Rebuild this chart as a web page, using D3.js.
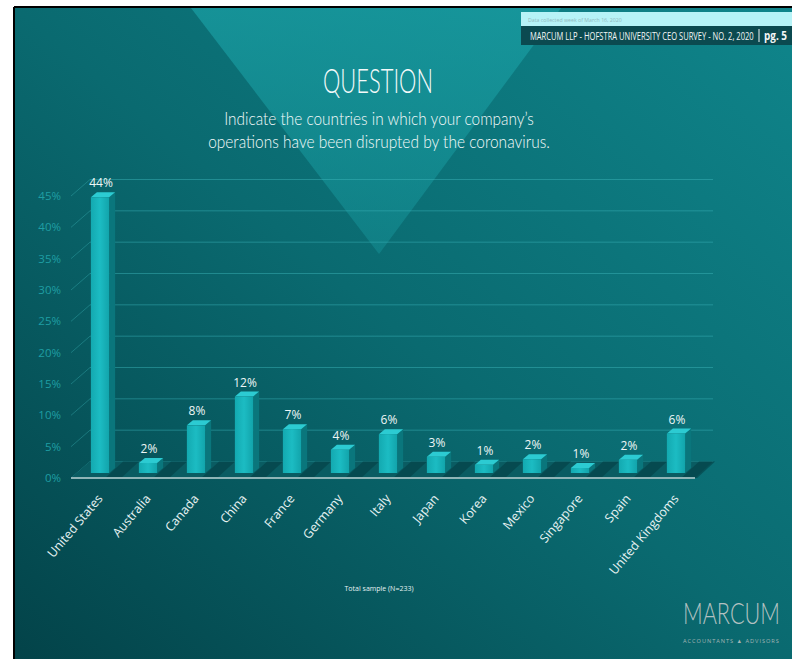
<!DOCTYPE html>
<html>
<head>
<meta charset="utf-8">
<script src="https://cdn.jsdelivr.net/npm/d3@7"></script>
<style>
  html, body { margin: 0; padding: 0; background: #fff; }
  svg { display: block; }
</style>
</head>
<body>
<svg id="chart" width="792" height="659"></svg>
<script>
(function() {
    // Chart data
    const countries = ['United States', 'Australia', 'Canada', 'China', 'France', 'Germany', 'Italy',
        'Japan', 'Korea', 'Mexico', 'Singapore', 'Spain', 'United Kingdoms'];
    const shares = [44, 1.6, 7.6, 12.2, 7.0, 3.7, 6.2, 2.6, 1.3, 2.2, 0.8, 2.1, 6.3];
    const tickValues = [0, 5, 10, 15, 20, 25, 30, 35, 40, 45];

    const titleText = 'QUESTION';
    const questionLines = ['Indicate the countries in which your company\u2019s',
        'operations have been disrupted by the coronavirus.'];
    const headerNote = 'Data collected week of March 16, 2020';
    const headerTitle = 'MARCUM LLP - HOFSTRA UNIVERSITY CEO SURVEY - NO. 2, 2020';
    const pageLabel = 'pg. 5';
    const sampleNote = 'Total sample (N=233)';

    const svg = d3.select('#chart');
    const defs = svg.append('defs');

    // squeeze a text horizontally to a given width (condensed look), anchored at x
    function fitText(sel, x, yPos, width, anchor) {
        sel.attr('x', 0).attr('y', 0).attr('text-anchor', anchor || 'start');
        const len = sel.node().getComputedTextLength();
        const sx = Math.min(1.2, width / len);
        sel.attr('transform', `translate(${x},${yPos}) scale(${sx},1)`);
        return sel;
    }

    const bg = defs.append('linearGradient').attr('id', 'bg')
        .attr('x1', 0).attr('y1', 1).attr('x2', 1).attr('y2', 0);
    bg.append('stop').attr('offset', 0).attr('stop-color', '#034349');
    bg.append('stop').attr('offset', 0.5).attr('stop-color', '#0a6a70');
    bg.append('stop').attr('offset', 1).attr('stop-color', '#0f858b');

    const tri = defs.append('linearGradient').attr('id', 'tri')
        .attr('x1', 0).attr('y1', 0).attr('x2', 0).attr('y2', 1);
    tri.append('stop').attr('offset', 0).attr('stop-color', '#1aa0a5').attr('stop-opacity', 0.7);
    tri.append('stop').attr('offset', 1).attr('stop-color', '#1aa0a5').attr('stop-opacity', 0.35);

    const front = defs.append('linearGradient').attr('id', 'front')
        .attr('x1', 0).attr('y1', 0).attr('x2', 1).attr('y2', 0);
    front.append('stop').attr('offset', 0).attr('stop-color', '#13a9b0');
    front.append('stop').attr('offset', 0.5).attr('stop-color', '#1cbcc3');
    front.append('stop').attr('offset', 1).attr('stop-color', '#12a4ab');

    // slide frame
    svg.append('rect').attr('x', 15).attr('y', 8).attr('width', 777).attr('height', 651)
        .attr('fill', 'url(#bg)');
    svg.append('line').attr('x1', 14).attr('x2', 14).attr('y1', 7).attr('y2', 659)
        .attr('stroke', '#000').attr('stroke-width', 2);
    svg.append('line').attr('x1', 14).attr('x2', 792).attr('y1', 7).attr('y2', 7)
        .attr('stroke', '#000').attr('stroke-width', 2);

    // light inverted triangle behind the title
    svg.append('path').attr('d', 'M191,8 L561,8 L379,254 Z').attr('fill', 'url(#tri)');

    // header boxes
    svg.append('rect').attr('x', 521).attr('y', 12).attr('width', 271).attr('height', 14)
        .attr('fill', '#b6f3f7');
    svg.append('rect').attr('x', 521).attr('y', 26).attr('width', 271).attr('height', 19)
        .attr('fill', '#0b4a50');
    fitText(svg.append('text').text(headerNote)
        .attr('font-family', 'Open Sans, sans-serif').attr('font-size', 6)
        .attr('fill', '#8fb9bd'), 528, 22, 94);
    fitText(svg.append('text').text(headerTitle)
        .attr('font-family', 'Open Sans, sans-serif').attr('font-size', 11)
        .attr('fill', '#f2f6f6'), 530, 39.5, 224);
    svg.append('line').attr('x1', 759).attr('x2', 759).attr('y1', 29).attr('y2', 42)
        .attr('stroke', '#f2f6f6').attr('stroke-width', 1);
    fitText(svg.append('text').text(pageLabel)
        .attr('font-family', 'Open Sans, sans-serif').attr('font-size', 12.5).attr('font-weight', 700)
        .attr('fill', '#f2f6f6'), 764, 40, 23);

    // title block
    fitText(svg.append('text').text(titleText)
        .attr('font-family', 'Lato, DejaVu Sans, sans-serif').attr('font-weight', 300)
        .attr('font-size', 33).attr('fill', '#f4fafa'), 378, 93, 110, 'middle');
    svg.selectAll('text.q').data(questionLines).enter().append('text')
        .attr('class', 'q')
        .attr('font-family', 'Lato, DejaVu Sans, sans-serif').attr('font-weight', 300)
        .attr('font-size', 18.5).attr('fill', '#f4fafa')
        .text(d => d)
        .each(function(d, i) {
            fitText(d3.select(this), 379, 125 + i * 22.5, i === 0 ? 310 : 342, 'middle');
        });

    // scales: bar front plane; floor front is +5 down, back wall is 11.5 up
    const x = d3.scaleBand().domain(countries).range([76, 700])
        .paddingInner(0.62).paddingOuter(0.31);
    const y = d3.scaleLinear().domain([0, 45]).range([473, 191]);
    const frontOff = 5, backOff = -11.5;
    const floorX0 = 71, floorX1 = 695, wallX0 = 90, wallX1 = 713;

    // back wall grid lines
    svg.selectAll('line.grid').data(tickValues).enter().append('line')
        .attr('class', 'grid')
        .attr('x1', wallX0).attr('x2', wallX1)
        .attr('y1', d => y(d) + backOff).attr('y2', d => y(d) + backOff)
        .attr('stroke', '#3fb9bd').attr('stroke-opacity', 0.45).attr('stroke-width', 1);
    // side wall diagonals
    svg.selectAll('line.diag').data(tickValues).enter().append('line')
        .attr('class', 'diag')
        .attr('x1', floorX0).attr('x2', wallX0)
        .attr('y1', d => y(d) + frontOff).attr('y2', d => y(d) + backOff)
        .attr('stroke', '#3fb9bd').attr('stroke-opacity', 0.35).attr('stroke-width', 1);

    // tick labels
    svg.selectAll('text.tick').data(tickValues).enter().append('text')
        .attr('class', 'tick')
        .attr('x', 61).attr('y', d => y(d) + frontOff).attr('dy', '0.35em')
        .attr('text-anchor', 'end')
        .attr('font-family', 'Open Sans, sans-serif').attr('font-size', 11.5)
        .attr('fill', '#1f9ea3')
        .text(d => d + '%');

    // floor
    const y0 = y(0);
    svg.append('path')
        .attr('d', `M${floorX0},${y0 + frontOff} L${floorX1},${y0 + frontOff} L${wallX1},${y0 + backOff} L${wallX0},${y0 + backOff} Z`)
        .attr('fill', '#0a5c62');
    // bar shadows on the floor
    svg.selectAll('path.shadow').data(countries).enter().append('path')
        .attr('class', 'shadow')
        .attr('d', d => {
            const r = x(d) + x.bandwidth();
            return `M${r - 4},${y0 + frontOff} L${r + 12},${y0 + frontOff} L${r + 30},${y0 + backOff} L${r + 14},${y0 + backOff} Z`;
        })
        .attr('fill', '#033c42').attr('fill-opacity', 0.55);
    svg.append('line')
        .attr('x1', floorX0).attr('x2', floorX1)
        .attr('y1', y0 + frontOff).attr('y2', y0 + frontOff)
        .attr('stroke', '#8fb5b7').attr('stroke-width', 2);

    // 3D bars
    const dx = 6, dy = -5;
    const bars = svg.selectAll('g.bar').data(countries).enter().append('g').attr('class', 'bar');
    bars.append('path')
        .attr('d', (d, i) => {
            const r = x(d) + x.bandwidth(), t = y(shares[i]);
            return `M${r},${t} L${r + dx},${t + dy} L${r + dx},${y0 + dy} L${r},${y0} Z`;
        })
        .attr('fill', '#0a767c');
    bars.append('path')
        .attr('d', (d, i) => {
            const l = x(d), r = l + x.bandwidth(), t = y(shares[i]);
            return `M${l},${t} L${r},${t} L${r + dx},${t + dy} L${l + dx},${t + dy} Z`;
        })
        .attr('fill', '#2ccbd2');
    bars.append('rect')
        .attr('x', d => x(d)).attr('width', x.bandwidth())
        .attr('y', (d, i) => y(shares[i])).attr('height', (d, i) => y0 - y(shares[i]))
        .attr('fill', 'url(#front)');

    // value labels
    svg.selectAll('text.val').data(countries).enter().append('text')
        .attr('class', 'val')
        .attr('x', d => x(d) + x.bandwidth() / 2 + 1)
        .attr('y', (d, i) => y(shares[i]) - 10)
        .attr('text-anchor', 'middle')
        .attr('font-family', 'Open Sans, sans-serif').attr('font-size', 12)
        .attr('fill', '#eef6f6')
        .text((d, i) => Math.round(shares[i]) + '%');

    // category labels
    svg.selectAll('text.cat').data(countries).enter().append('text')
        .attr('class', 'cat')
        .attr('transform', d => `translate(${x(d) + x.bandwidth() / 2},${y0 + 23}) rotate(-50)`)
        .attr('text-anchor', 'end')
        .attr('dy', '0.35em')
        .attr('font-family', 'Open Sans, sans-serif').attr('font-size', 12.5)
        .attr('fill', '#e6f2f2')
        .text(d => d);

    svg.append('text').attr('x', 379).attr('y', 591).attr('text-anchor', 'middle').text(sampleNote)
        .attr('font-family', 'Open Sans, sans-serif').attr('font-size', 7)
        .attr('fill', '#e6f2f2');

    // logo
    fitText(svg.append('text').text('MARCUM')
        .attr('font-family', 'Lato, DejaVu Sans, sans-serif').attr('font-weight', 300)
        .attr('font-size', 29).attr('fill', '#b3c1c1'), 683, 624, 97);
    fitText(svg.append('text').text('ACCOUNTANTS \u25B2 ADVISORS')
        .attr('font-family', 'Open Sans, sans-serif').attr('font-size', 6).attr('letter-spacing', 1)
        .attr('fill', '#a3b5b5'), 683, 643, 97);
})();
</script>
</body>
</html>
